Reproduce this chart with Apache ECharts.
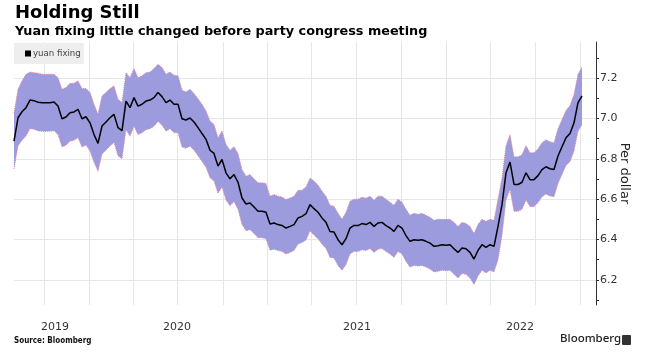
<!DOCTYPE html>
<html>
<head>
<meta charset="utf-8">
<script src="https://cdn.jsdelivr.net/npm/echarts@6/dist/echarts.min.js"></script>
<style>
html,body{margin:0;padding:0;background:#fff;}
#c{width:647px;height:359px;}
</style>
</head>
<body>
<div id="c"></div>
<script>
// Yuan fixing, one sample every ~4px of the plot (index units)
const fixing = [
6.888,7.004,7.034,7.054,7.092,7.089,7.081,7.079,7.079,7.079,
7.082,7.062,6.999,7.008,7.029,7.033,7.046,6.999,7.009,6.979,
6.921,6.877,6.963,6.983,7.004,7.021,6.955,6.940,7.087,7.054,
7.104,7.062,7.071,7.087,7.092,7.104,7.129,7.109,7.079,7.092,
7.071,7.071,6.999,6.993,7.003,6.983,6.955,6.926,6.897,6.843,
6.827,6.764,6.797,6.731,6.701,6.722,6.684,6.606,6.576,6.581,
6.561,6.540,6.540,6.535,6.477,6.482,6.474,6.470,6.457,6.465,
6.474,6.507,6.515,6.528,6.573,6.553,6.535,6.507,6.485,6.440,
6.437,6.399,6.374,6.404,6.457,6.470,6.469,6.479,6.474,6.485,
6.465,6.482,6.485,6.469,6.457,6.440,6.470,6.457,6.419,6.391,
6.399,6.396,6.399,6.391,6.382,6.366,6.369,6.374,6.372,6.374,
6.354,6.336,6.358,6.354,6.336,6.303,6.346,6.374,6.361,6.374,
6.366,6.465,6.573,6.731,6.784,6.673,6.673,6.684,6.731,6.697,
6.697,6.717,6.747,6.761,6.751,6.747,6.814,6.860,6.905,6.926,
6.979,7.079,7.112
];
// Upper edge of the trading band
const bandUpper = [
7.028,7.145,7.187,7.220,7.231,7.228,7.225,7.220,7.220,7.220,
7.220,7.203,7.145,7.154,7.175,7.175,7.187,7.149,7.149,7.129,
7.071,7.021,7.112,7.129,7.149,7.162,7.096,7.080,7.228,7.203,
7.248,7.203,7.212,7.228,7.231,7.248,7.270,7.253,7.220,7.231,
7.215,7.212,7.142,7.132,7.145,7.125,7.099,7.071,7.038,6.988,
6.971,6.905,6.938,6.872,6.843,6.860,6.827,6.747,6.714,6.722,
6.701,6.681,6.681,6.678,6.615,6.623,6.615,6.611,6.598,6.606,
6.615,6.644,6.645,6.660,6.705,6.690,6.670,6.640,6.615,6.570,
6.565,6.530,6.500,6.535,6.590,6.600,6.600,6.610,6.605,6.615,
6.595,6.615,6.615,6.600,6.585,6.570,6.600,6.585,6.550,6.520,
6.530,6.525,6.530,6.520,6.510,6.495,6.500,6.500,6.500,6.500,
6.485,6.465,6.485,6.480,6.465,6.430,6.475,6.500,6.490,6.500,
6.495,6.600,6.705,6.865,6.920,6.810,6.810,6.820,6.865,6.830,
6.830,6.850,6.880,6.895,6.885,6.880,6.950,6.995,7.040,7.065,
7.120,7.220,7.255
];
// Lower edge of the trading band
const bandLower = [
6.750,6.864,6.893,6.913,6.950,6.947,6.939,6.937,6.937,6.937,
6.940,6.921,6.859,6.868,6.888,6.892,6.905,6.859,6.869,6.839,
6.783,6.739,6.824,6.843,6.864,6.881,6.816,6.800,6.945,6.913,
6.962,6.921,6.930,6.945,6.950,6.962,6.986,6.967,6.937,6.950,
6.930,6.930,6.859,6.853,6.863,6.843,6.816,6.787,6.759,6.706,
6.690,6.629,6.661,6.596,6.567,6.588,6.550,6.474,6.444,6.449,
6.430,6.409,6.409,6.404,6.347,6.352,6.345,6.341,6.328,6.336,
6.345,6.377,6.385,6.397,6.442,6.422,6.404,6.377,6.355,6.311,
6.308,6.271,6.247,6.276,6.328,6.341,6.340,6.349,6.345,6.355,
6.336,6.352,6.355,6.340,6.328,6.311,6.341,6.328,6.291,6.263,
6.271,6.268,6.271,6.263,6.254,6.239,6.242,6.247,6.245,6.247,
6.227,6.209,6.231,6.227,6.209,6.177,6.219,6.247,6.234,6.247,
6.239,6.300,6.420,6.596,6.648,6.540,6.540,6.550,6.596,6.563,
6.563,6.583,6.612,6.626,6.616,6.612,6.678,6.723,6.767,6.787,
6.839,6.937,6.970
];
const yearLabels = ['2019', '2020', '2021', '2022'];
const yTickLabels = [6.2, 6.4, 6.6, 6.8, 7.0, 7.2];
const seriesName = 'yuan fixing';

// layout (x axis in sample-index units)
const yearLabelPos = [10.25, 40.75, 85.75, 126.5];
const quarterGrid = [7.5, 18.7, 29.8, 40.9, 52.2, 63.4, 74.4, 85.5, 96.9, 108.1, 119.1, 130.2, 141.5];
const yMinorTicks = [6.1, 6.2, 6.3, 6.4, 6.5, 6.6, 6.7, 6.8, 6.9, 7.0, 7.1, 7.2, 7.3];

const bandData = bandUpper.map((v, i) => [i, v, bandLower[i]]);
const upperData = bandUpper.map((v, i) => [i, v]);
const lowerData = bandLower.map((v, i) => [i, v]);
const lineData = fixing.map((v, i) => [i, v]);

const FONT = 'DejaVu Sans';
const BAND_FILL = '#9b9bdd';
const EDGE = '#e58aa6';

const chart = echarts.init(document.getElementById('c'), null, {renderer: 'canvas'});
chart.setOption({
  animation: false,
  backgroundColor: '#ffffff',
  title: {
    left: 10, top: -1,
    text: 'Holding Still',
    subtext: 'Yuan fixing little changed before party congress meeting',
    itemGap: 3,
    textStyle: {fontFamily: FONT, fontWeight: 'bold', fontSize: 18, color: '#000'},
    subtextStyle: {fontFamily: FONT, fontWeight: 'bold', fontSize: 12.8, color: '#000'}
  },
  legend: {
    left: 14, top: 43,
    data: [{name: seriesName, icon: 'rect'}],
    itemWidth: 6, itemHeight: 6,
    backgroundColor: '#eeeeee',
    padding: [6, 3, 6, 11],
    textStyle: {fontFamily: FONT, fontSize: 8.6, color: '#444', padding: [0, 0, 0, -3]}
  },
  graphic: [
    {type: 'rect', left: 19, top: 51, shape: {width: 3, height: 3}, style: {fill: '#bdbdbd'}},
    {type: 'text', left: 14, top: 337, style: {text: 'Source: Bloomberg', font: 'bold 8px "DejaVu Sans Condensed", "DejaVu Sans"', fill: '#111'}},
    {type: 'text', left: 560, top: 333, style: {text: 'Bloomberg', font: '500 11.5px "Noto Sans"', fill: '#222'}},
    {type: 'rect', left: 622, top: 335, shape: {width: 9, height: 10, r: 1}, style: {fill: '#333'}}
  ],
  grid: {left: 14, right: 51, top: 42, bottom: 54, containLabel: false},
  xAxis: {
    type: 'value', min: 0, max: 145.5, position: 'bottom',
    axisLine: {show: false, onZero: false},
    axisTick: {show: false, customValues: quarterGrid},
    splitLine: {show: true, lineStyle: {color: '#e6e6e6', width: 1}},
    axisLabel: {
      show: true, customValues: yearLabelPos, margin: 17,
      fontFamily: FONT, fontSize: 11, color: '#333',
      formatter: (v) => {
        const k = yearLabelPos.findIndex(p => Math.abs(p - v) < 0.01);
        return k >= 0 ? yearLabels[k] : '';
      }
    }
  },
  yAxis: [
    {
      type: 'value', min: 6.075, max: 7.38, position: 'right',
      name: 'Per dollar', nameLocation: 'middle', nameRotate: -90, nameGap: 22,
      nameMoveOverlap: false,
      nameTextStyle: {fontFamily: FONT, fontSize: 13, color: '#222'},
      axisLine: {show: true, onZero: false, lineStyle: {color: '#333', width: 1}},
      axisTick: {show: true, length: 3, customValues: yMinorTicks, lineStyle: {color: '#333'}},
      splitLine: {show: false},
      axisLabel: {
        customValues: yTickLabels, margin: 4,
        fontFamily: FONT, fontSize: 11, color: '#333',
        formatter: (v) => v.toFixed(1)
      }
    },
    {
      type: 'value', min: 6.075, max: 7.38, position: 'left',
      axisLine: {show: false, onZero: false},
      axisTick: {show: false, customValues: yTickLabels},
      axisLabel: {show: false},
      splitLine: {show: true, lineStyle: {color: '#e6e6e6', width: 1}}
    }
  ],
  series: [
    {
      name: 'band', type: 'custom', data: bandData, z: 2,
      encode: {x: 0, y: 1},
      clip: true,
      renderItem: (params, api) => {
        if (params.dataIndexInside !== 0) return null;
        const pts = [];
        for (let i = 0; i < bandData.length; i++) pts.push(api.coord([bandData[i][0], bandData[i][1]]));
        for (let i = bandData.length - 1; i >= 0; i--) pts.push(api.coord([bandData[i][0], bandData[i][2]]));
        return {type: 'polygon', shape: {points: pts}, style: {fill: BAND_FILL}};
      }
    },
    {
      name: 'band upper', type: 'line', data: upperData, symbol: 'none', z: 3,
      lineStyle: {color: EDGE, width: 1, type: 'dotted'}
    },
    {
      name: 'band lower', type: 'line', data: lowerData, symbol: 'none', z: 3,
      lineStyle: {color: EDGE, width: 1, type: 'dotted'}
    },
    {
      name: seriesName, type: 'line', data: lineData,
      symbol: 'none', z: 4, itemStyle: {color: '#000'},
      lineStyle: {color: '#000', width: 1.5}
    }
  ]
});
</script>
</body>
</html>
